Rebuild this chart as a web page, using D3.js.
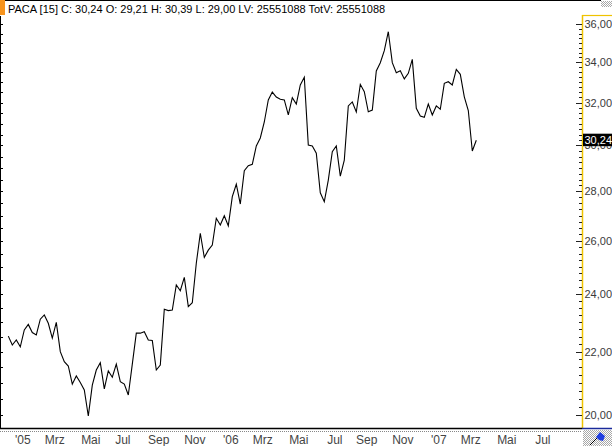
<!DOCTYPE html>
<html>
<head>
<meta charset="utf-8">
<script src="https://cdn.jsdelivr.net/npm/d3@7"></script>
<style>
  html, body { margin: 0; padding: 0; background: #fff; }
  svg { display: block; }
  text { font-family: "Liberation Sans", Arial, sans-serif; }
</style>
</head>
<body>
<script>
// ---------------- DATA ----------------
const symbol = "PACA [15]";
const headerStats = "C: 30,24 O: 29,21 H: 30,39 L: 29,00 LV: 25551088 TotV: 25551088";
const firstDate = "2004-12-17";   // first weekly bar (Friday)
const weekStepDays = 7;
const closes = [
  22.52, 22.22, 22.39, 22.16, 22.73, 22.92, 22.64, 22.56, 23.10, 23.25,
  22.96, 22.45, 22.99, 22.00, 21.67, 21.53, 20.95, 21.21, 21.00, 20.77,
  19.97, 20.92, 21.40, 21.64, 20.80, 21.37, 21.17, 21.59, 21.03, 20.95,
  20.61, 21.59, 22.62, 22.62, 22.67, 22.39, 22.37, 21.40, 21.56, 23.45,
  23.40, 23.42, 24.32, 24.11, 24.60, 23.54, 23.68, 25.13, 26.29, 25.35,
  25.63, 25.83, 26.89, 26.62, 26.99, 26.58, 27.78, 28.30, 27.47, 28.88,
  29.10, 29.16, 29.98, 30.34, 31.08, 32.13, 32.51, 32.27, 32.16, 32.13,
  31.41, 32.24, 31.93, 32.86, 33.24, 30.02, 29.98, 29.65, 27.94, 27.57,
  28.48, 29.72, 29.98, 28.65, 29.35, 31.84, 32.03, 31.55, 32.89, 32.53,
  31.56, 31.64, 33.56, 33.98, 34.60, 35.60, 33.98, 33.47, 33.57, 33.16,
  33.44, 34.15, 31.73, 31.36, 31.30, 31.93, 31.41, 31.84, 31.68, 32.94,
  33.02, 32.86, 33.64, 33.39, 32.28, 31.62, 29.75, 30.24
];
const lastValueLabel = "30,24";
const yTickValues = [20, 22, 24, 26, 28, 30, 32, 34, 36];
const xTickMonths = ["2005-01","2005-03","2005-05","2005-07","2005-09","2005-11",
                     "2006-01","2006-03","2006-05","2006-07","2006-09","2006-11",
                     "2007-01","2007-03","2007-05","2007-07"];
const xTickLabels = ["'05","Mrz","Mai","Jul","Sep","Nov",
                     "'06","Mrz","Mai","Jul","Sep","Nov",
                     "'07","Mrz","Mai","Jul"];

// ---------------- LAYOUT ----------------
const W = 612, H = 446;
const plotLeft = 0, plotRight = 582, plotTop = 15, plotBottom = 428;

const svg = d3.select("body").append("svg").attr("width", W).attr("height", H);

const defs = svg.append("defs");
const pat = defs.append("pattern").attr("id", "hatch").attr("width", 2).attr("height", 2)
  .attr("patternUnits", "userSpaceOnUse");
pat.append("rect").attr("width", 2).attr("height", 2).attr("fill", "#ffffff");
pat.append("rect").attr("width", 1).attr("height", 1).attr("fill", "#a8a8a8");
pat.append("rect").attr("x", 1).attr("y", 1).attr("width", 1).attr("height", 1).attr("fill", "#a8a8a8");

// scales
const parseDay = d3.timeParse("%Y-%m-%d");
const parseMonth = d3.timeParse("%Y-%m");
const start = parseDay(firstDate);
const data = closes.map((v, i) => ({ date: d3.timeDay.offset(start, i * weekStepDays), v }));

const x = d3.scaleTime()
  .domain([data[0].date, data[data.length - 1].date])
  .range([8.3, 476.3]);
const y = d3.scaleLog().domain([20, 36]).range([415, 24.3]);

// top border line + header
svg.append("line").attr("x1", 0).attr("x2", 601).attr("y1", 0.5).attr("y2", 0.5)
  .attr("stroke", "#000").attr("stroke-width", 1);
svg.append("rect").attr("x", 601).attr("y", 1).attr("width", 11).attr("height", 6).attr("fill", "url(#hatch)");
svg.append("rect").attr("x", 0).attr("y", 0).attr("width", 5).attr("height", 15).attr("fill", "#F7941D");
svg.append("text").attr("x", 8).attr("y", 12.5).attr("font-size", 11).attr("fill", "#000")
  .text(symbol + " " + headerStats);

// left border with small ticks
svg.append("line").attr("x1", 0.5).attr("x2", 0.5).attr("y1", 16).attr("y2", plotBottom)
  .attr("stroke", "#000");
const leftTicks = d3.range(20, 36.01, 0.5);
svg.append("g").selectAll("line").data(leftTicks).join("line")
  .attr("x1", 0).attr("x2", 3)
  .attr("y1", d => Math.round(y(d)) + 0.5).attr("y2", d => Math.round(y(d)) + 0.5)
  .attr("stroke", "#000");

// right axis: yellow border
svg.append("line").attr("x1", 582.5).attr("x2", 582.5).attr("y1", plotTop).attr("y2", plotBottom)
  .attr("stroke", "#EFC300").attr("stroke-width", 1.5);
svg.append("line").attr("x1", 582).attr("x2", W).attr("y1", 15.5).attr("y2", 15.5)
  .attr("stroke", "#EFC300").attr("stroke-width", 1.2);

// right axis ticks
const minorTicks = d3.range(20, 36.01, 0.25);
svg.append("g").selectAll("line").data(minorTicks).join("line")
  .attr("x1", d => (Math.abs(d % 2) < 1e-6 ? 576 : 579)).attr("x2", 582)
  .attr("y1", d => Math.round(y(d)) + 0.5).attr("y2", d => Math.round(y(d)) + 0.5)
  .attr("stroke", "#222").attr("stroke-width", 1);

const fmt = v => d3.format(".2f")(v).replace(".", ",");
svg.append("g").selectAll("text").data(yTickValues).join("text")
  .attr("x", 584.5).attr("y", d => y(d) + 4)
  .attr("font-size", 11).attr("fill", "#3a3a3a")
  .text(d => fmt(d));

// last value badge
const lastY = y(closes[closes.length - 1]);
svg.append("rect").attr("x", 583).attr("y", lastY - 6.5).attr("width", 29).attr("height", 12.5).attr("fill", "#000");
svg.append("text").attr("x", 584.5).attr("y", lastY + 4).attr("font-size", 11).attr("fill", "#fff")
  .text(lastValueLabel);

// price line
const line = d3.line().x(d => x(d.date)).y(d => y(d.v));
svg.append("path").datum(data).attr("d", line)
  .attr("fill", "none").attr("stroke", "#000").attr("stroke-width", 1.1)
  .attr("stroke-linejoin", "miter");

// bottom border
svg.append("line").attr("x1", 0).attr("x2", 582).attr("y1", 428.5).attr("y2", 428.5)
  .attr("stroke", "#000").attr("stroke-width", 1.5);
svg.append("line").attr("x1", 582).attr("x2", W).attr("y1", 428.5).attr("y2", 428.5)
  .attr("stroke", "#1a2a9a").attr("stroke-width", 1.5);
svg.append("line").attr("x1", 0).attr("x2", 582).attr("y1", 431.5).attr("y2", 431.5)
  .attr("stroke", "#888").attr("stroke-dasharray", "1,1");

// x labels at first bar of each month
const xt = xTickMonths.map((m, i) => ({ pos: x(d3.timeFriday.ceil(parseMonth(m))) + 2.5, label: xTickLabels[i] }));
svg.append("g").selectAll("text").data(xt).join("text")
  .attr("x", d => d.pos).attr("y", 444).attr("text-anchor", "middle")
  .attr("font-size", 12).attr("fill", "#444")
  .text(d => d.label);

// bottom-right corner box with pin icon
svg.append("rect").attr("x", 583).attr("y", 430).attr("width", 29).attr("height", 16).attr("fill", "url(#hatch)");
svg.append("line").attr("x1", 590).attr("y1", 445).attr("x2", 598).attr("y2", 437)
  .attr("stroke", "#000").attr("stroke-width", 1);
svg.append("path").attr("d", "M596,437 L600,432 L605,436 L603,441 L599,440 Z").attr("fill", "#1f3de0");
</script>
</body>
</html>
